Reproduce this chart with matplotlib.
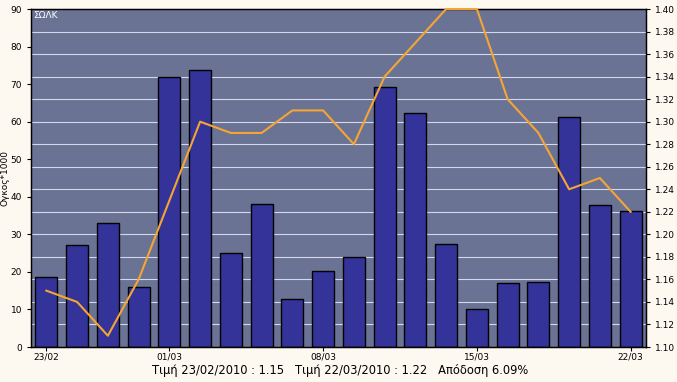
import numpy as np
import matplotlib
matplotlib.use('Agg')  # non-interactive backend
import matplotlib.pyplot as plt

# Daily data 23/02/2010 - 22/03/2010
dates = ['23/02', '24/02', '25/02', '26/02', '01/03', '02/03', '03/03', '04/03', '05/03',
         '08/03', '09/03', '10/03', '11/03', '12/03', '15/03', '16/03', '17/03', '18/03',
         '19/03', '22/03']
volume = [18.6, 27.2, 33.0, 16.0, 71.9, 73.7, 25.0, 38.0, 12.8, 20.2,
          24.0, 69.2, 62.3, 27.4, 10.1, 17.0, 17.3, 61.2, 37.8, 36.2]
price = [1.15, 1.14, 1.11, 1.16, 1.23, 1.30, 1.29, 1.29, 1.31, 1.31,
         1.28, 1.34, 1.37, 1.40, 1.40, 1.32, 1.29, 1.24, 1.25, 1.22]
shown_ticks = ['23/02', '01/03', '08/03', '15/03', '22/03']

ticker = 'ΣΩΛΚ'
footer = 'Τιμή 23/02/2010 : 1.15   Τιμή 22/03/2010 : 1.22   Απόδοση 6.09%'

plt.rcParams['font.family'] = ['DejaVu Sans']

fig = plt.figure(figsize=(6.77, 3.82), dpi=100, facecolor='#fdf9f1')
ax = fig.add_axes([0.0458, 0.0916, 0.9084, 0.8848])
ax.set_facecolor('#6b7395')

x = np.arange(len(dates))
ax.bar(x, volume, width=0.72, color='#333399', edgecolor='black', linewidth=1, zorder=2)

ax.set_xlim(-0.5, len(dates) - 0.5)
ax.set_ylim(0, 90)
ax.set_yticks(np.arange(0, 91, 10))
ax.set_xticks([dates.index(d) for d in shown_ticks])
ax.set_xticklabels(shown_ticks)
ax.tick_params(axis='both', labelsize=6.5, length=3, width=0.8, colors='black')
ax.tick_params(axis='x', pad=1)
ax.set_ylabel('Ογκος*1000', fontsize=6.5, labelpad=1)

ax2 = ax.twinx()
ax2.set_ylim(1.10, 1.40)
rticks = np.round(np.arange(1.10, 1.401, 0.02), 2)
ax2.set_yticks(rticks)
ax2.set_yticklabels([f'{v:.2f}' for v in rticks])
ax2.tick_params(axis='y', labelsize=6.5, length=3, width=0.8)
ax2.plot(x, price, color='#f4a534', linewidth=1.5, zorder=3, clip_on=False)

# gridlines follow the right-hand price ticks
for r in rticks[1:-1]:
    ax.axhline((r - 1.10) / 0.30 * 90, color='#d4d8ec', linewidth=0.8, zorder=1)

for a in (ax, ax2):
    for s in a.spines.values():
        s.set_color('black')
        s.set_linewidth(0.9)

ax.text(0.004, 0.995, ticker, transform=ax.transAxes, color='white',
        fontsize=6.5, ha='left', va='top', zorder=5)
fig.text(0.503, 0.030, footer, fontsize=8.3, ha='center', va='center')

fig.savefig('out.png', dpi=100, facecolor=fig.get_facecolor())
